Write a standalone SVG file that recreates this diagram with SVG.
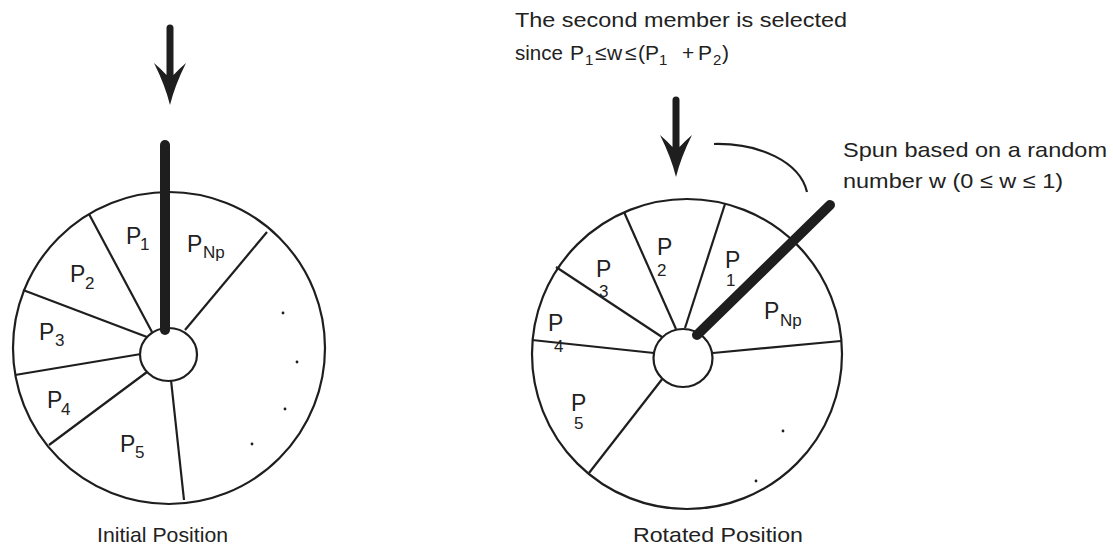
<svg xmlns="http://www.w3.org/2000/svg" width="1113" height="547" viewBox="0 0 1113 547">
<defs>
<style>
.rim{fill:#fff;stroke:#1e1e1e;stroke-width:2.2}
.spoke{stroke:#1e1e1e;stroke-width:2.2;fill:none}
.hub{fill:#fff;stroke:#1e1e1e;stroke-width:2.2}
.ptr{stroke:#1e1e1e;stroke-width:10;stroke-linecap:round}
.dot{fill:#1e1e1e}
.lbl{font-family:"Liberation Sans",Arial,sans-serif;font-size:23px;fill:#222}
.sub{font-family:"Liberation Sans",Arial,sans-serif;font-size:17px;fill:#222}
.tsub{font-family:"Liberation Sans",Arial,sans-serif;font-size:15px;fill:#222}
.txt{font-family:"Liberation Sans",Arial,sans-serif;font-size:21px;fill:#222}
</style>
<path id="downArrow" d="M0,0 Q-5,-20 -16,-42 Q-9,-36 -3.5,-30 L-3.5,-77 A3.5,3.5 0 0 1 3.5,-77 L3.5,-30 Q9,-36 16,-42 Q5,-20 0,0 Z" fill="#1e1e1e"/>
</defs>
<rect width="1113" height="547" fill="#fff"/>

<g id="wheel-initial">
<circle class="rim" cx="169" cy="348" r="156"/>
<line class="spoke" x1="89" y1="214" x2="152" y2="332"/>
<line class="spoke" x1="23" y1="290" x2="147" y2="337"/>
<line class="spoke" x1="15" y1="375" x2="141" y2="354"/>
<line class="spoke" x1="49" y1="445" x2="147" y2="372"/>
<line class="spoke" x1="184" y1="500" x2="171" y2="380"/>
<line class="spoke" x1="267" y1="232" x2="185" y2="330"/>
<ellipse class="hub" cx="168.5" cy="354.5" rx="28.5" ry="26.5"/>
<line class="ptr" x1="165" y1="145" x2="165" y2="330"/>
<circle class="dot" cx="283" cy="313" r="1.4"/>
<circle class="dot" cx="297" cy="362" r="1.4"/>
<circle class="dot" cx="285" cy="409" r="1.4"/>
<circle class="dot" cx="252" cy="444" r="1.4"/>
<text class="lbl" x="126" y="244">P</text><text class="sub" x="140" y="250">1</text>
<text class="lbl" x="187" y="252">P</text><text class="sub" x="203" y="258">Np</text>
<text class="lbl" x="70" y="282">P</text><text class="sub" x="85" y="289">2</text>
<text class="lbl" x="39" y="340">P</text><text class="sub" x="55" y="346">3</text>
<text class="lbl" x="47" y="408">P</text><text class="sub" x="61" y="415">4</text>
<text class="lbl" x="120" y="452">P</text><text class="sub" x="135" y="458">5</text>
</g>

<g id="wheel-rotated">
<circle class="rim" cx="687" cy="354" r="155"/>
<line class="spoke" x1="624" y1="212" x2="676" y2="329"/>
<line class="spoke" x1="725" y1="204" x2="685" y2="328"/>
<line class="spoke" x1="556" y1="267" x2="662" y2="337"/>
<line class="spoke" x1="532" y1="340" x2="654" y2="353"/>
<line class="spoke" x1="589" y1="473" x2="663" y2="378"/>
<line class="spoke" x1="841" y1="341" x2="713" y2="353"/>
<ellipse class="hub" cx="683" cy="358" rx="29.5" ry="29"/>
<line class="ptr" x1="697" y1="335" x2="830" y2="205"/>
<circle class="dot" cx="783" cy="431" r="1.4"/>
<circle class="dot" cx="756" cy="481" r="1.4"/>
<text class="lbl" x="657" y="255">P</text><text class="sub" x="657" y="276">2</text>
<text class="lbl" x="725" y="268">P</text><text class="sub" x="726" y="286">1</text>
<text class="lbl" x="596" y="277">P</text><text class="sub" x="599" y="297">3</text>
<text class="lbl" x="548" y="331">P</text><text class="sub" x="554" y="352">4</text>
<text class="lbl" x="571" y="411">P</text><text class="sub" x="574" y="429">5</text>
<text class="lbl" x="764" y="319">P</text><text class="sub" x="780" y="326">Np</text>
</g>

<g id="arrow-initial"><use href="#downArrow" x="170" y="105"/></g>
<g id="arrow-rotated"><use href="#downArrow" x="676" y="177"/></g>

<g id="connectors">
<path class="spoke" d="M714,144 C760,143 800,162 807,192"/>
</g>

<g id="note-selected">
<text class="txt" x="515" y="27" textLength="332" lengthAdjust="spacingAndGlyphs">The second member is selected</text>
<text class="txt" x="515" y="60" textLength="48" lengthAdjust="spacingAndGlyphs">since</text>
<text class="txt" x="570" y="60">P</text><text class="tsub" x="585" y="65">1</text>
<text class="txt" x="595" y="60">≤</text>
<text class="txt" x="607" y="60">w</text>
<text class="txt" x="625" y="60">≤</text>
<text class="txt" x="638" y="60">(P</text><text class="tsub" x="659" y="65">1</text>
<text class="txt" x="682" y="60">+</text>
<text class="txt" x="698" y="60">P</text><text class="tsub" x="713" y="65">2</text>
<text class="txt" x="722" y="60">)</text>
</g>

<g id="note-spun">
<text class="txt" x="843" y="157" textLength="264" lengthAdjust="spacingAndGlyphs">Spun based on a random</text>
<text class="txt" x="843" y="188" textLength="220" lengthAdjust="spacingAndGlyphs">number w (0 ≤ w ≤ 1)</text>
</g>

<g id="captions">
<text class="txt" x="97" y="542" textLength="131" lengthAdjust="spacingAndGlyphs">Initial Position</text>
<text class="txt" x="633" y="542" textLength="170" lengthAdjust="spacingAndGlyphs">Rotated Position</text>
</g>
</svg>
